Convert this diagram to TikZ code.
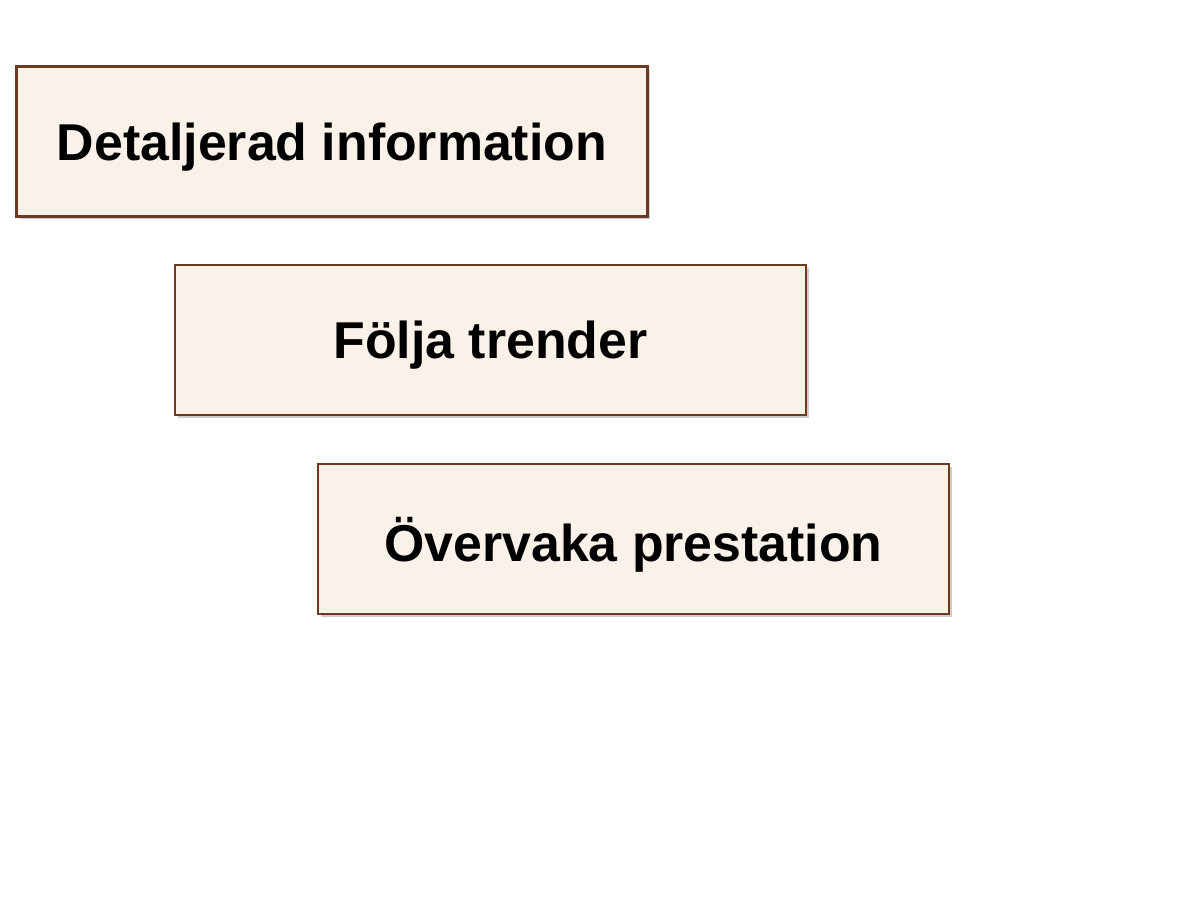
\documentclass[tikz,border=0pt]{standalone}
\usepackage{fontspec}
\setmainfont{Liberation Sans}
\usetikzlibrary{positioning, shadows}
\definecolor{stepbrown}{HTML}{6E3A1F}
\definecolor{stepcream}{HTML}{FAF1E8}

\begin{document}
\begin{tikzpicture}[x=0.02cm, y=-0.02cm,
  every node/.style={font=\fontsize{29.5}{35}\selectfont\bfseries},
  stepbox/.style={rectangle, draw=stepbrown, fill=stepcream, line width=1.3pt, minimum width=12.62cm, minimum height=3.0cm, inner sep=0pt, text depth=0pt, drop shadow={shadow xshift=0.06cm, shadow yshift=-0.06cm, opacity=0.4}},
]

% Canvas
\useasboundingbox (0,0) rectangle (1193,896);

% Steps
\node[stepbox] (detail) at (332, 141.5) {Detaljerad information};
\node[stepbox] (trend) at (490.5, 340) {Följa trender};
\node[stepbox] (perf) at (633.5, 539) {Övervaka prestation};

\end{tikzpicture}
\end{document}
